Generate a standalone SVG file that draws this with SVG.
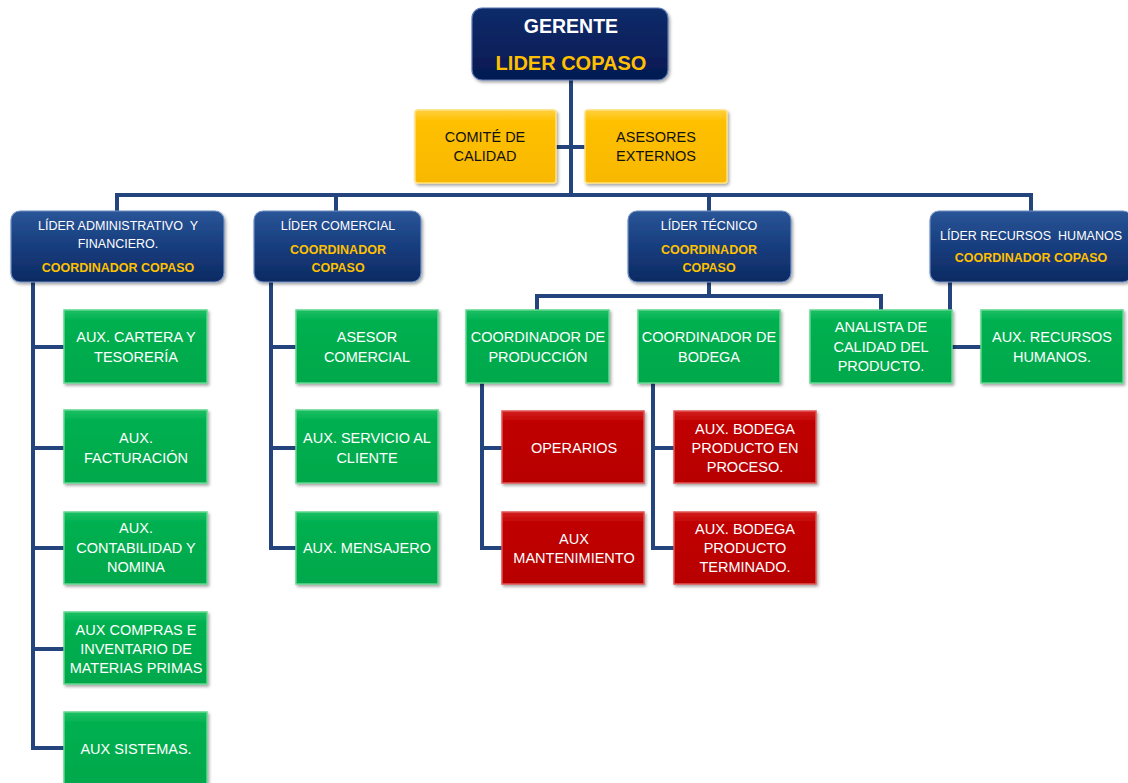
<svg xmlns="http://www.w3.org/2000/svg" width="1128" height="783" viewBox="0 0 1128 783">
<defs>
<linearGradient id="gBlue" x1="0" y1="0" x2="0" y2="1"><stop offset="0" stop-color="#2a5597"/><stop offset="0.5" stop-color="#173d7e"/><stop offset="1" stop-color="#0d2a62"/></linearGradient>
<linearGradient id="gNavy" x1="0" y1="0" x2="0" y2="1"><stop offset="0" stop-color="#0f2b6a"/><stop offset="1" stop-color="#051a52"/></linearGradient>
<linearGradient id="gGreen" x1="0" y1="0" x2="0" y2="1"><stop offset="0" stop-color="#1cc063"/><stop offset="0.15" stop-color="#00b050"/><stop offset="1" stop-color="#00a84b"/></linearGradient>
<linearGradient id="gRed" x1="0" y1="0" x2="0" y2="1"><stop offset="0" stop-color="#d42020"/><stop offset="0.15" stop-color="#c00000"/><stop offset="1" stop-color="#b80000"/></linearGradient>
<linearGradient id="gYellow" x1="0" y1="0" x2="0" y2="1"><stop offset="0" stop-color="#ffd040"/><stop offset="0.15" stop-color="#ffc000"/><stop offset="1" stop-color="#f8b800"/></linearGradient>
<filter id="sh" x="-10%" y="-10%" width="125%" height="130%"><feDropShadow dx="1.5" dy="2" stdDeviation="1.5" flood-color="#000" flood-opacity="0.35"/></filter>
</defs>
<style>
.blue{fill:url(#gBlue);stroke:#6f8fc4;stroke-width:1.2;filter:url(#sh)}
.navy{fill:url(#gNavy);stroke:#5c79b4;stroke-width:1.2;filter:url(#sh)}
.green{fill:url(#gGreen);stroke:#62d68f;stroke-width:1.5;filter:url(#sh)}
.red{fill:url(#gRed);stroke:#e05555;stroke-width:1.5;filter:url(#sh)}
.yellow{fill:url(#gYellow);stroke:#ffe07a;stroke-width:1.5;filter:url(#sh)}
.conn{fill:none;stroke:#23447c;stroke-width:4;stroke-linejoin:miter}
text{font-family:"Liberation Sans",Arial,sans-serif;text-anchor:middle;dominant-baseline:central;white-space:pre}
.w{fill:#ffffff;font-size:14.5px}
.k{fill:#111111;font-size:14.5px}
.bw{fill:#ffffff;font-size:12.5px}
.bg{fill:#ffc000;font-size:12.5px;font-weight:bold}
</style>
<g id="connectors">
<path class="conn" d="M571,80 V195"/>
<path class="conn" d="M556,147 H585"/>
<path class="conn" d="M117,211 V195 H1031 V211"/>
<path class="conn" d="M336,195 V211"/>
<path class="conn" d="M709,195 V211"/>
<path class="conn" d="M33,282 V748 H64"/>
<path class="conn" d="M33,347 H64 M33,448 H64 M33,548 H64 M33,649 H64"/>
<path class="conn" d="M271,282 V548 H296 M271,347 H296 M271,448 H296"/>
<path class="conn" d="M709,282 V296 M537,310 V296 H881 V310"/>
<path class="conn" d="M950,282 V347 H981"/>
<path class="conn" d="M482,383 V548 H502 M482,448 H502"/>
<path class="conn" d="M653,383 V548 H674 M653,448 H674"/>
</g>
<g id="gerente">
<rect class="navy" x="472" y="8" width="196" height="72" rx="10"/>
<text x="571" y="26" style="fill:#fff;font-size:19.5px;font-weight:bold">GERENTE</text>
<text x="571" y="63" style="fill:#ffc000;font-size:20px;font-weight:bold">LIDER COPASO</text>
</g>
<g id="comite">
<rect class="yellow" x="415" y="110" width="141" height="73" rx="3"/>
<text class="k" x="485" y="137">COMITÉ DE</text>
<text class="k" x="485" y="156">CALIDAD</text>
</g>
<g id="asesores">
<rect class="yellow" x="585" y="110" width="142" height="73" rx="3"/>
<text class="k" x="656" y="137">ASESORES</text>
<text class="k" x="656" y="156">EXTERNOS</text>
</g>
<g id="lider-admin">
<rect class="blue" x="11" y="211" width="213" height="71" rx="9"/>
<text class="bw" x="118" y="226" xml:space="preserve">LÍDER ADMINISTRATIVO  Y</text>
<text class="bw" x="118" y="244">FINANCIERO.</text>
<text class="bg" x="118" y="268">COORDINADOR COPASO</text>
</g>
<g id="lider-comercial">
<rect class="blue" x="254" y="211" width="167" height="71" rx="9"/>
<text class="bw" x="338" y="226">LÍDER COMERCIAL</text>
<text class="bg" x="338" y="250">COORDINADOR</text>
<text class="bg" x="338" y="268">COPASO</text>
</g>
<g id="lider-tecnico">
<rect class="blue" x="628" y="211" width="163" height="71" rx="9"/>
<text class="bw" x="709" y="226">LÍDER TÉCNICO</text>
<text class="bg" x="709" y="250">COORDINADOR</text>
<text class="bg" x="709" y="268">COPASO</text>
</g>
<g id="lider-rrhh">
<rect class="blue" x="930" y="211" width="202" height="71" rx="9"/>
<text class="bw" x="1031" y="236" xml:space="preserve">LÍDER RECURSOS  HUMANOS</text>
<text class="bg" x="1031" y="258">COORDINADOR COPASO</text>
</g>
<g id="aux-cartera">
<rect class="green" x="64" y="310" width="143" height="73"/>
<text class="w" x="136" y="337">AUX. CARTERA Y</text>
<text class="w" x="136" y="357">TESORERÍA</text>
</g>
<g id="aux-facturacion">
<rect class="green" x="64" y="410" width="143" height="73"/>
<text class="w" x="136" y="438">AUX.</text>
<text class="w" x="136" y="458">FACTURACIÓN</text>
</g>
<g id="aux-contabilidad">
<rect class="green" x="64" y="512" width="143" height="72"/>
<text class="w" x="136" y="528">AUX.</text>
<text class="w" x="136" y="548">CONTABILIDAD Y</text>
<text class="w" x="136" y="567">NOMINA</text>
</g>
<g id="aux-compras">
<rect class="green" x="64" y="612" width="143" height="72"/>
<text class="w" x="136" y="630">AUX COMPRAS E</text>
<text class="w" x="136" y="649">INVENTARIO DE</text>
<text class="w" x="136" y="668">MATERIAS PRIMAS</text>
</g>
<g id="aux-sistemas">
<rect class="green" x="64" y="712" width="143" height="75"/>
<text class="w" x="136" y="749">AUX SISTEMAS.</text>
</g>
<g id="asesor-comercial">
<rect class="green" x="296" y="310" width="142" height="73"/>
<text class="w" x="367" y="337">ASESOR</text>
<text class="w" x="367" y="357">COMERCIAL</text>
</g>
<g id="aux-servicio">
<rect class="green" x="296" y="410" width="142" height="73"/>
<text class="w" x="367" y="438">AUX. SERVICIO AL</text>
<text class="w" x="367" y="458">CLIENTE</text>
</g>
<g id="aux-mensajero">
<rect class="green" x="296" y="512" width="142" height="72"/>
<text class="w" x="367" y="548">AUX. MENSAJERO</text>
</g>
<g id="coord-produccion">
<rect class="green" x="466" y="310" width="143" height="73"/>
<text class="w" x="538" y="337">COORDINADOR DE</text>
<text class="w" x="538" y="357">PRODUCCIÓN</text>
</g>
<g id="coord-bodega">
<rect class="green" x="638" y="310" width="142" height="73"/>
<text class="w" x="709" y="337">COORDINADOR DE</text>
<text class="w" x="709" y="357">BODEGA</text>
</g>
<g id="analista">
<rect class="green" x="810" y="310" width="142" height="73"/>
<text class="w" x="881" y="327">ANALISTA DE</text>
<text class="w" x="881" y="347">CALIDAD DEL</text>
<text class="w" x="881" y="366">PRODUCTO.</text>
</g>
<g id="aux-rrhh">
<rect class="green" x="981" y="310" width="142" height="73"/>
<text class="w" x="1052" y="337">AUX. RECURSOS</text>
<text class="w" x="1052" y="357">HUMANOS.</text>
</g>
<g id="operarios">
<rect class="red" x="502" y="411" width="142" height="72"/>
<text class="w" x="574" y="448">OPERARIOS</text>
</g>
<g id="aux-mantenimiento">
<rect class="red" x="502" y="512" width="142" height="72"/>
<text class="w" x="574" y="539">AUX</text>
<text class="w" x="574" y="558">MANTENIMIENTO</text>
</g>
<g id="aux-bodega-proceso">
<rect class="red" x="674" y="411" width="142" height="72"/>
<text class="w" x="745" y="429">AUX. BODEGA</text>
<text class="w" x="745" y="448">PRODUCTO EN</text>
<text class="w" x="745" y="467">PROCESO.</text>
</g>
<g id="aux-bodega-terminado">
<rect class="red" x="674" y="512" width="142" height="72"/>
<text class="w" x="745" y="529">AUX. BODEGA</text>
<text class="w" x="745" y="548">PRODUCTO</text>
<text class="w" x="745" y="567">TERMINADO.</text>
</g>
</svg>
